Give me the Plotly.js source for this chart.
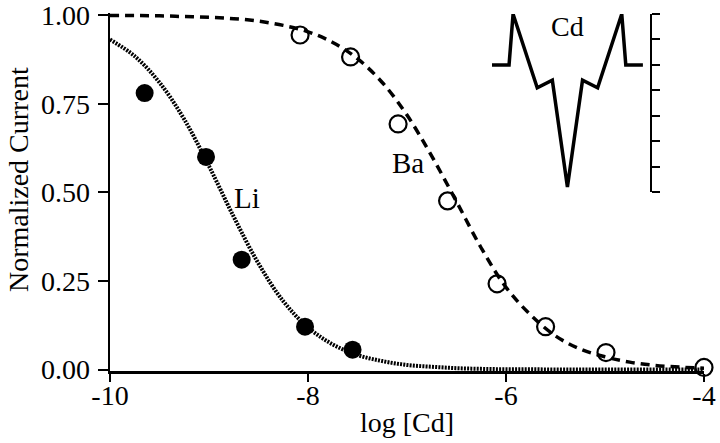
<!DOCTYPE html>
<html>
<head>
<meta charset="utf-8">
<script src="https://cdn.plot.ly/plotly-3.0.1.min.js"></script>
<style>
  html, body { margin: 0; padding: 0; background: #fff; }
  #plot { width: 720px; height: 443px; }
</style>
</head>
<body>
<div id="plot"></div>
<script>
// measured points, log [Cd] vs normalized current
const liX = [-9.65, -9.03, -8.67, -8.03, -7.55];
const liY = [0.78, 0.60, 0.31, 0.121, 0.056];
const baX = [-8.08, -7.57, -7.09, -6.59, -6.09, -5.60, -4.99, -4.00];
const baY = [0.944, 0.882, 0.693, 0.476, 0.242, 0.121, 0.048, 0.006];

// fitted curves, every 0.25 log unit
const fitX = [-10, -9.75, -9.5, -9.25, -9, -8.75, -8.5, -8.25, -8, -7.75, -7.5, -7.25, -7,
              -6.75, -6.5, -6.25, -6, -5.75, -5.5, -5.25, -5, -4.75, -4.5, -4.25, -4];
const liFit = [0.931, 0.884, 0.810, 0.706, 0.574, 0.431, 0.299, 0.193, 0.119, 0.071, 0.041, 0.024, 0.013,
               0.008, 0.004, 0.002, 0.001, 0.001, 0, 0, 0, 0, 0, 0, 0];
const baFit = [0.999, 0.999, 0.998, 0.996, 0.994, 0.990, 0.983, 0.971, 0.953, 0.923, 0.877, 0.810, 0.718,
               0.602, 0.474, 0.343, 0.232, 0.154, 0.095, 0.058, 0.036, 0.021, 0.012, 0.007, 0.004];

// inset: Cd current trace (arbitrary units)
const cdT = [-75, -58, -54, -30, -15, 0, 15, 30, 54, 58, 75];
const cdI = [5, 5, 7, 4.1, 4.4, 0.2, 4.4, 4.1, 7, 5, 5];

const xTicks = [-10, -8, -6, -4];
const xTickText = ['-10', '-8', '-6', '-4'];
const yTicks = [0, 0.25, 0.5, 0.75, 1];

const serif = 'Liberation Serif, Times New Roman, serif';

let traces = [
  {x: fitX, y: liFit, mode: 'lines', line: {color: '#000', width: 4, dash: '2px,1.2px', shape: 'spline'}},
  {x: fitX, y: baFit, mode: 'lines', line: {color: '#000', width: 3.5, dash: '9px,6px', shape: 'spline'}},
  {x: liX, y: liY, mode: 'markers', cliponaxis: false,
   marker: {symbol: 'circle', size: 18, color: '#000'}},
  {x: baX, y: baY, mode: 'markers', cliponaxis: false,
   marker: {symbol: 'circle-open', size: 17, color: '#000', line: {width: 2.2, color: '#000'}}},
  {x: cdT, y: cdI, xaxis: 'x2', yaxis: 'y2', mode: 'lines', cliponaxis: false,
   line: {color: '#000', width: 3.5}}
];

let layout = {
  width: 720, height: 443,
  margin: {l: 110, r: 16, t: 13, b: 72},
  showlegend: false,
  paper_bgcolor: '#fff', plot_bgcolor: '#fff',
  font: {family: serif, size: 28, color: '#000'},
  xaxis: {
    range: [-10, -4],
    tickvals: xTicks, ticktext: xTickText,
    showline: true, linewidth: 2.5, linecolor: '#000',
    ticks: 'outside', ticklen: 8, tickwidth: 2, tickcolor: '#000',
    ticklabelstandoff: -10, ticklabeloverflow: 'allow',
    showgrid: false, zeroline: false
  },
  yaxis: {
    range: [-0.004, 1.006],
    tickvals: yTicks, tickformat: '.2f',
    showline: true, linewidth: 2.5, linecolor: '#000',
    ticks: 'outside', ticklen: 10, tickwidth: 2, tickcolor: '#000',
    ticklabelstandoff: 2, ticklabeloverflow: 'allow',
    showgrid: false, zeroline: false
  },
  xaxis2: {
    domain: [0.643, 0.909], range: [-75, 82], anchor: 'y2',
    visible: false
  },
  yaxis2: {
    domain: [0.5, 0.997], range: [0, 7], anchor: 'x2', side: 'right',
    dtick: 1, showticklabels: false,
    showline: true, linewidth: 2.5, linecolor: '#000',
    ticks: 'outside', ticklen: 8, tickwidth: 2, tickcolor: '#000',
    showgrid: false, zeroline: false
  },
  annotations: [
    // axis titles
    {x: 0.5, y: -0.1425, xref: 'paper', yref: 'paper', xanchor: 'center', yanchor: 'middle',
     text: 'log [Cd]', showarrow: false, font: {size: 28}},
    {x: -0.155, y: 0.536, xref: 'paper', yref: 'paper', xanchor: 'center', yanchor: 'middle',
     text: 'Normalized Current', textangle: -90, showarrow: false, font: {size: 28}},
    // curve labels
    {x: -8.62, y: 0.485, xref: 'x', yref: 'y', text: 'Li', showarrow: false, font: {size: 29}},
    {x: -6.99, y: 0.583, xref: 'x', yref: 'y', text: 'Ba', showarrow: false, font: {size: 29}},
    {x: 0, y: 6.5, xref: 'x2', yref: 'y2', text: 'Cd', showarrow: false, font: {size: 28}}
  ]
};

Plotly.newPlot('plot', traces, layout, {staticPlot: true});
</script>
</body>
</html>
